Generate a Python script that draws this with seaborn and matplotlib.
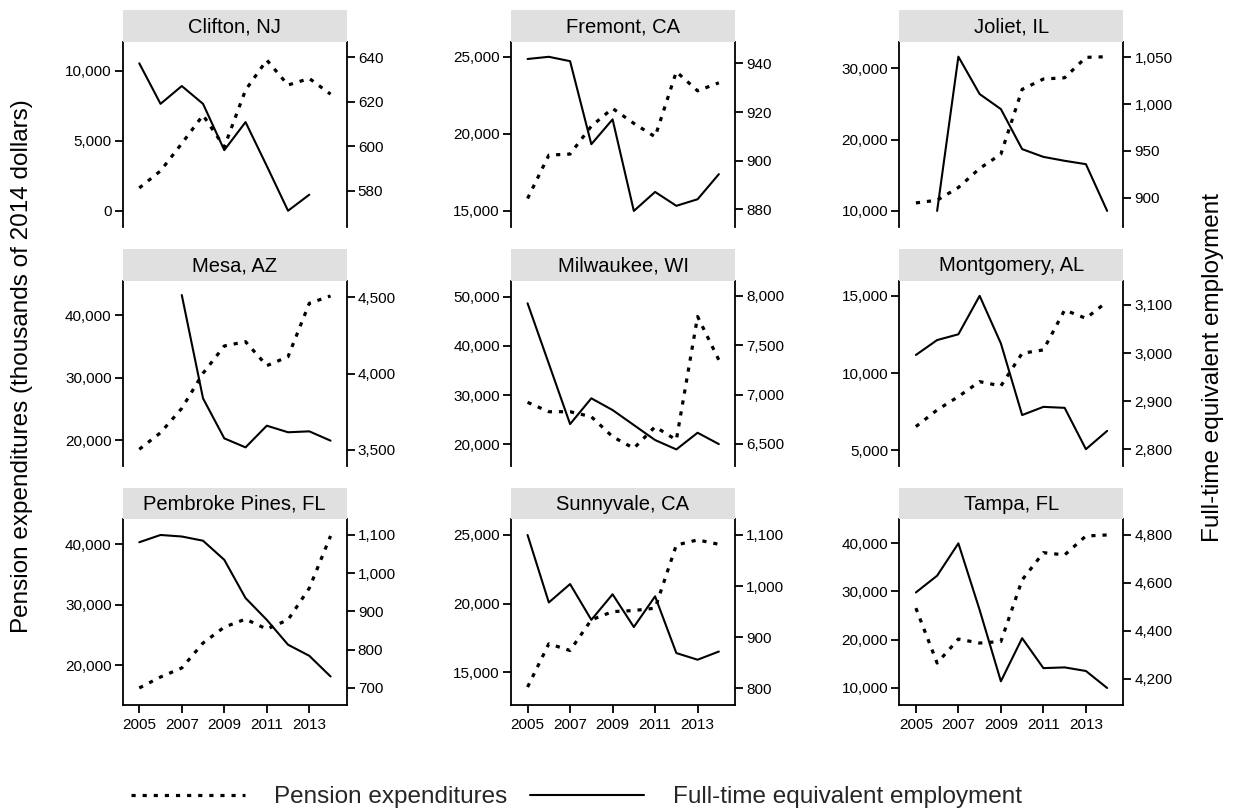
import numpy as np
import pandas as pd
import matplotlib
matplotlib.use("Agg")
import matplotlib.pyplot as plt
import seaborn as sns
from matplotlib.ticker import FuncFormatter
from matplotlib.lines import Line2D

# ---------------------------------------------------------------- data
years = list(range(2005, 2015))

cities = ["Clifton, NJ", "Fremont, CA", "Joliet, IL",
          "Mesa, AZ", "Milwaukee, WI", "Montgomery, AL",
          "Pembroke Pines, FL", "Sunnyvale, CA", "Tampa, FL"]

# pension expenditures, thousands of 2014 dollars
clifton_pension = [1640, 2860, 4810, 6830, 4570, 8620, 10760, 8980, 9450, 8330]
fremont_pension = [15810, 18620, 18690, 20500, 21650, 20680, 19810, 24030, 22790, 23310]
joliet_pension = [11130, 11510, 13290, 15960, 17970, 27050, 28500, 28680, 31540, 31630]
mesa_pension = [18510, 21170, 25080, 30700, 35080, 35770, 31920, 33360, 41930, 43100]
milwaukee_pension = [28510, 26590, 26590, 25570, 21490, 19120, 23530, 20820, 46020, 37140]
montgomery_pension = [6520, 7600, 8470, 9440, 9160, 11280, 11500, 14090, 13550, 14630]
pembroke_pension = [16270, 18080, 19570, 23690, 26320, 27640, 25990, 27530, 32750, 41370]
sunnyvale_pension = [13930, 17080, 16590, 18820, 19420, 19500, 19670, 24270, 24640, 24320]
tampa_pension = [26550, 15160, 20130, 19300, 19630, 32400, 38050, 37580, 41510, 41720]

# full-time equivalent employment
clifton_fte = [637.3, 619.1, 627.1, 619.1, 598.3, 610.9, 591.2, 571.1, 578.3, np.nan]
fremont_fte = [941.8, 942.7, 940.9, 906.8, 917.0, 879.4, 887.2, 881.5, 884.2, 894.5]
joliet_fte = [np.nan, 885.7, 1050.7, 1010.7, 994.6, 951.8, 943.5, 939.3, 935.7, 885.7]
mesa_fte = [np.nan, np.nan, 4515, 3838, 3576, 3517, 3659, 3616, 3622, 3561]
milwaukee_fte = [7926, 7314, 6702, 6963, 6844, 6692, 6540, 6445, 6614, 6499]
montgomery_fte = [2996, 3027, 3039, 3119, 3020, 2871, 2888, 2886, 2800, 2838]
pembroke_fte = [1081, 1100, 1096, 1085, 1035, 935, 878, 813, 784, 730]
sunnyvale_fte = [1100, 968, 1004, 934, 984, 920, 980, 869, 856, 872]
tampa_fte = [4560, 4630, 4765, 4487, 4189, 4369, 4244, 4247, 4232, 4161]

# axis ticks per panel (left: pension, right: employment)
left_ticks = [[0, 5000, 10000], [15000, 20000, 25000], [10000, 20000, 30000],
              [20000, 30000, 40000], [20000, 30000, 40000, 50000], [5000, 10000, 15000],
              [20000, 30000, 40000], [15000, 20000, 25000], [10000, 20000, 30000, 40000]]
right_ticks = [[580, 600, 620, 640], [880, 900, 920, 940], [900, 950, 1000, 1050],
               [3500, 4000, 4500], [6500, 7000, 7500, 8000], [2800, 2900, 3000, 3100],
               [700, 800, 900, 1000, 1100], [800, 900, 1000, 1100], [4200, 4400, 4600, 4800]]
year_ticks = [2005, 2007, 2009, 2011, 2013]

pension_series = [clifton_pension, fremont_pension, joliet_pension,
                  mesa_pension, milwaukee_pension, montgomery_pension,
                  pembroke_pension, sunnyvale_pension, tampa_pension]
fte_series = [clifton_fte, fremont_fte, joliet_fte,
              mesa_fte, milwaukee_fte, montgomery_fte,
              pembroke_fte, sunnyvale_fte, tampa_fte]

frames = []
for city, pen, fte in zip(cities, pension_series, fte_series):
    frames.append(pd.DataFrame({"city": city, "year": years,
                                "pension": pen, "fte": fte}))
df = pd.concat(frames, ignore_index=True)

# ---------------------------------------------------------------- style
sns.set_theme(style="white")
plt.rcParams["font.family"] = ["Liberation Sans", "DejaVu Sans"]
plt.rcParams["lines.scale_dashes"] = False
plt.rcParams["axes.linewidth"] = 1.3

W, H = 1238, 810
fig = plt.figure(figsize=(W / 100, H / 100), dpi=100)


def px_rect(left, top, width, height):
    return [left / W, 1 - (top + height) / H, width / W, height / H]


col_left = [122.7, 511.0, 899.3]
row_top = [41.7, 280.7, 519.3]
panel_w, panel_h, strip_h = 224.0, 185.3, 31.5

left_lims = [(-1143, 12071), (13962, 25974), (7754, 33735),
             (15830, 45550), (15512, 53325), (3962, 15993),
             (13523, 44120), (12652, 26141), (6543, 44968)]
right_lims = [(563.8, 647.0), (872.8, 948.9), (868.5, 1066.7),
              (3395, 4609), (6277, 8155), (2765, 3150.5),
              (656.4, 1141), (768.2, 1130.7), (4091.6, 4865.5)]

dotted = (0, (3.0, 5.0))
dotted_lw = 2.3
solid_lw = 1.5
comma = FuncFormatter(lambda v, p: f"{v:,.0f}")

for i, city in enumerate(cities):
    r, c = divmod(i, 3)
    sub = df[df["city"] == city]

    ax = fig.add_axes(px_rect(col_left[c], row_top[r], panel_w, panel_h))
    sns.lineplot(data=sub, x="year", y="pension", ax=ax, color="black",
                 lw=dotted_lw, linestyle=dotted, estimator=None)
    ax2 = ax.twinx()
    sns.lineplot(data=sub.dropna(subset=["fte"]), x="year", y="fte", ax=ax2,
                 color="black", lw=solid_lw, estimator=None)

    for a in (ax, ax2):
        a.set_xlabel("")
        a.set_ylabel("")
        a.set_xlim(2004.22, 2014.76)
        for s in a.spines.values():
            s.set_color("black")
            s.set_linewidth(1.3)
    ax.set_ylim(*left_lims[i])
    ax2.set_ylim(*right_lims[i])
    ax.set_yticks(left_ticks[i])
    ax2.set_yticks(right_ticks[i])
    ax.yaxis.set_major_formatter(comma)
    ax2.yaxis.set_major_formatter(comma)

    ax.spines["top"].set_visible(False)
    ax.spines["right"].set_visible(False)
    ax2.spines["top"].set_visible(False)
    ax2.spines["left"].set_visible(False)
    ax2.spines["bottom"].set_visible(False)

    ax.tick_params(axis="y", direction="out", length=6, width=1.3,
                   labelsize=11, pad=2, colors="black", left=True)
    ax2.tick_params(axis="y", direction="out", length=6, width=1.3,
                    labelsize=11, pad=2, colors="black", right=True)

    if r == 2:
        ax.set_xticks(year_ticks)
        ax.tick_params(axis="x", direction="out", length=6, width=1.3,
                       labelsize=11, pad=4, colors="black", bottom=True)
    else:
        ax.set_xticks([])
        ax.spines["bottom"].set_visible(False)

    # strip with the city name
    sax = fig.add_axes(px_rect(col_left[c], row_top[r] - strip_h, panel_w, strip_h))
    sax.set_facecolor("#e0e0e0")
    for s in sax.spines.values():
        s.set_visible(False)
    sax.set_xticks([])
    sax.set_yticks([])
    sax.text(0.5, 0.48, city, ha="center", va="center", fontsize=14.5,
             color="black", transform=sax.transAxes)

# axis titles
fig.text(22 / W, 1 - 366 / H, "Pension expenditures (thousands of 2014 dollars)",
         rotation=90, ha="center", va="center", fontsize=17.5, color="black")
fig.text(1213 / W, 1 - 368 / H, "Full-time equivalent employment",
         rotation=90, ha="center", va="center", fontsize=17.5, color="black")

# legend
handles = [Line2D([], [], color="black", lw=dotted_lw, linestyle=dotted),
           Line2D([], [], color="black", lw=solid_lw)]
fig.legend(handles, ["Pension expenditures", "Full-time equivalent employment"],
           loc="center left", bbox_to_anchor=(131 / W, 1 - 797 / H), ncol=2,
           frameon=False, fontsize=17.5, handlelength=4.7, handletextpad=1.2,
           columnspacing=0.9, borderpad=0, borderaxespad=0)

fig.savefig("out.png", dpi=100)
